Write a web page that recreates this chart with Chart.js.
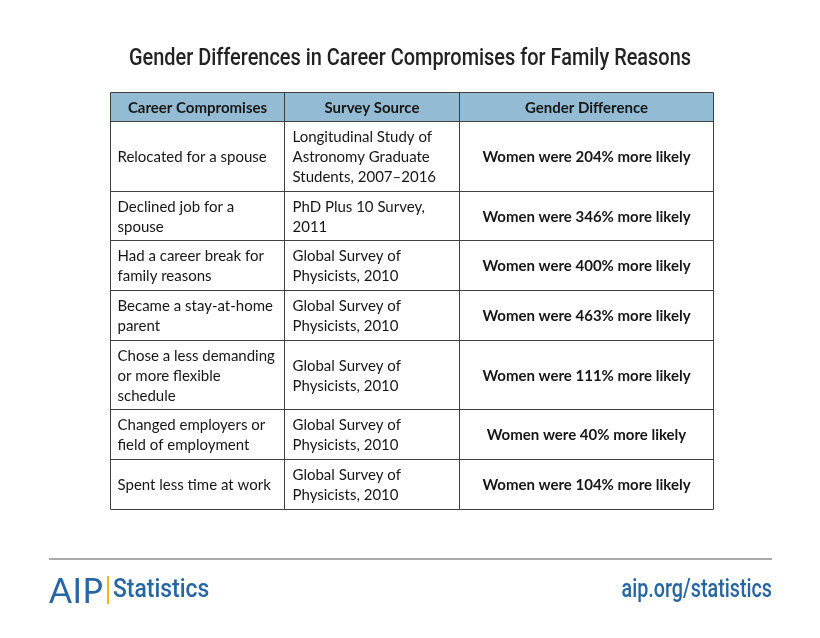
<!DOCTYPE html>
<html>
<head>
<meta charset="utf-8">
<script src="https://cdn.jsdelivr.net/npm/chart.js@4.4.1/dist/chart.umd.min.js"></script>
<style>
body{margin:0;background:#fff}
#wrap{position:relative;width:820px;height:638px;overflow:hidden}
#myChart{position:absolute;left:0;top:0}
.title{position:absolute;top:43px;left:0;width:820px;text-align:center;font-family:"Roboto",sans-serif;font-weight:500;font-size:24px;color:#222;transform:scaleX(0.83);transform-origin:410px 0}
.rule{position:absolute;left:49px;top:558px;width:723px;height:2px;background:#aaa}
.aip{position:absolute;left:49px;top:569px;font-family:"Lato",sans-serif;font-size:34px;color:#2766a0;letter-spacing:0.5px}
.bar{position:absolute;left:107px;top:576px;width:2px;height:28px;background:#f2b417}
.stats{position:absolute;left:113px;top:573px;font-family:"Roboto",sans-serif;font-weight:500;font-size:26px;color:#2766a0;transform:scaleX(0.88);transform-origin:0 0}
.url{position:absolute;right:48px;top:573px;font-family:"Roboto",sans-serif;font-weight:500;font-size:26px;color:#2766a0;transform:scaleX(0.76);transform-origin:100% 0}
</style>
</head>
<body>
<div id="wrap">
<canvas id="myChart" width="820" height="638"></canvas>
<div class="title">Gender Differences in Career Compromises for Family Reasons</div>
<div class="rule"></div>
<div class="aip">AIP</div>
<div class="bar"></div>
<div class="stats">Statistics</div>
<div class="url">aip.org/statistics</div>
</div>
<script>
const headers = ['Career Compromises', 'Survey Source', 'Gender Difference'];
const compromises = [
    ['Relocated for a spouse'],
    ['Declined job for a', 'spouse'],
    ['Had a career break for', 'family reasons'],
    ['Became a stay-at-home', 'parent'],
    ['Chose a less demanding', 'or more flexible', 'schedule'],
    ['Changed employers or', 'field of employment'],
    ['Spent less time at work']
];
const sources = [
    ['Longitudinal Study of', 'Astronomy Graduate', 'Students, 2007\u20132016'],
    ['PhD Plus 10 Survey,', '2011'],
    ['Global Survey of', 'Physicists, 2010'],
    ['Global Survey of', 'Physicists, 2010'],
    ['Global Survey of', 'Physicists, 2010'],
    ['Global Survey of', 'Physicists, 2010'],
    ['Global Survey of', 'Physicists, 2010']
];
const percentMoreLikely = [204, 346, 400, 463, 111, 40, 104];

// layout (x units = column widths, y units = row heights)
const colWidths = [174, 175, 254];
const headerHeight = 29;
const lineHeight = 20;

const colEdges = [0];
colWidths.forEach(w => colEdges.push(colEdges[colEdges.length - 1] + w));
const rowEdges = [0, headerHeight];
compromises.forEach((c, i) => {
    const n = Math.max(c.length, sources[i].length);
    rowEdges.push(rowEdges[rowEdges.length - 1] + n * lineHeight + 10);
});

const tablePlugin = {
    id: 'tablePlugin',
    afterDraw(chart) {
        const ctx = chart.ctx;
        const x = chart.scales.x, y = chart.scales.y;
        const px = v => Math.round(x.getPixelForValue(v)) + 0.5;
        const py = v => Math.round(y.getPixelForValue(v)) + 0.5;
        ctx.save();
        // header background
        ctx.fillStyle = '#93bcd4';
        ctx.fillRect(px(0), py(0), px(colEdges[3]) - px(0), py(headerHeight) - py(0));
        // grid
        ctx.strokeStyle = '#404040';
        ctx.lineWidth = 1;
        ctx.beginPath();
        rowEdges.forEach(r => { ctx.moveTo(px(0), py(r)); ctx.lineTo(px(colEdges[3]), py(r)); });
        colEdges.forEach(c => { ctx.moveTo(px(c), py(0)); ctx.lineTo(px(c), py(rowEdges[rowEdges.length - 1])); });
        ctx.stroke();
        // header text
        ctx.fillStyle = '#161616';
        ctx.textBaseline = 'middle';
        ctx.textAlign = 'center';
        ctx.font = 'bold 15px Lato';
        headers.forEach((h, i) => {
            ctx.fillText(h, (px(colEdges[i]) + px(colEdges[i + 1])) / 2, (py(0) + py(headerHeight)) / 2 + 1);
        });
        // body
        const lines = (arr, left, mid) => {
            arr.forEach((t, k) => ctx.fillText(t, left, mid + (k - (arr.length - 1) / 2) * lineHeight));
        };
        compromises.forEach((c, i) => {
            const mid = (py(rowEdges[i + 1]) + py(rowEdges[i + 2])) / 2 + 1;
            ctx.font = '15px Lato';
            ctx.textAlign = 'left';
            lines(c, px(colEdges[0]) + 7, mid);
            lines(sources[i], px(colEdges[1]) + 8, mid);
            ctx.font = 'bold 15px Lato';
            ctx.textAlign = 'center';
            ctx.fillText('Women were ' + percentMoreLikely[i] + '% more likely', (px(colEdges[2]) + px(colEdges[3])) / 2, mid);
        });
        ctx.restore();
    }
};

const ctx2 = document.getElementById('myChart');
const tableChart = new Chart(ctx2, {
    type: 'scatter',
    data: { datasets: [{ data: [] }] },
    options: {
        responsive: false,
        animation: false,
        layout: { padding: { left: 110, right: 107, top: 92, bottom: 129 } },
        plugins: { legend: { display: false }, tooltip: { enabled: false } },
        scales: {
            x: { display: false, min: 0, max: colEdges[3] },
            y: { display: false, min: 0, max: rowEdges[rowEdges.length - 1], reverse: true }
        }
    },
    plugins: [tablePlugin]
});
</script>
</body>
</html>
